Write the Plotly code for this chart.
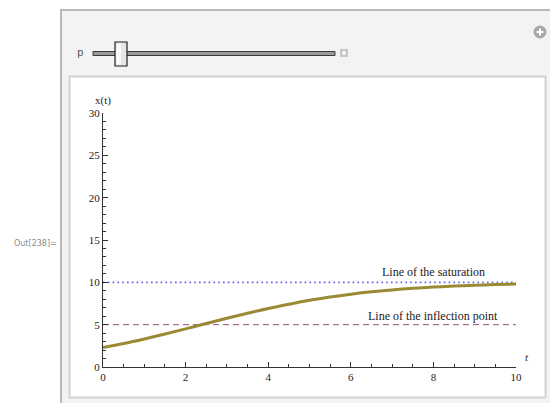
import plotly.graph_objects as go

# ---- data ----
t_vals = [0, 0.5, 1, 1.5, 2, 2.5, 3, 3.5, 4, 4.5, 5, 5.5, 6, 6.5, 7, 7.5, 8, 8.5, 9, 9.5, 10]
x_vals = [2.30, 2.77, 3.31, 3.89, 4.50, 5.13, 5.75, 6.35, 6.92, 7.42, 7.88, 8.27, 8.60,
          8.88, 9.10, 9.29, 9.44, 9.56, 9.65, 9.73, 9.79]
saturation = 10
inflection = 5
x_ticks = [0, 2, 4, 6, 8, 10]
y_ticks = [0, 5, 10, 15, 20, 25, 30]
labels = ["Line of the saturation", "Line of the inflection point"]

W, H = 550, 403
ML, MR, MT, MB = 103, 34, 113, 36
PW, PH = W - ML - MR, H - MT - MB


def px(x):
    return (x - ML) / PW


def py(y):
    return 1 - (y - MT) / PH


serif = "Liberation Serif"
fig = go.Figure()

fig.add_trace(go.Scatter(x=[0, 10], y=[saturation, saturation], mode="lines",
                         line=dict(color="#6464e6", width=1.6, dash="1.6px,3.2px"), hoverinfo="skip"))
fig.add_trace(go.Scatter(x=[0, 10], y=[inflection, inflection], mode="lines",
                         line=dict(color="#9a4f7c", width=1, dash="6px,4px"), hoverinfo="skip"))
fig.add_trace(go.Scatter(x=t_vals, y=x_vals, mode="lines", line_shape="spline",
                         line=dict(color="#9a8a34", width=3), hoverinfo="skip"))

shapes = []
# outer gray panel
shapes.append(dict(type="rect", xref="paper", yref="paper", x0=px(61), x1=px(560), y0=py(10), y1=py(410),
                   fillcolor="#f3f3f3", line=dict(color="#b9b9b9", width=2), layer="below"))
# inner white box
shapes.append(dict(type="rect", xref="paper", yref="paper", x0=px(69.5), x1=px(545.5), y0=py(76.5), y1=py(397.5),
                   fillcolor="white", line=dict(color="#d2d2d2", width=2), layer="below"))
# slider track
shapes.append(dict(type="rect", xref="paper", yref="paper", x0=px(93), x1=px(335), y0=py(51.5), y1=py(55.5),
                   fillcolor="#9a9a9a", line=dict(color="#3a3a3a", width=1), layer="above"))
# slider thumb
shapes.append(dict(type="rect", xref="paper", yref="paper", x0=px(115), x1=px(127), y0=py(42), y1=py(66),
                   fillcolor="#e6e6e6", line=dict(color="#222222", width=1.2), layer="above"))
shapes.append(dict(type="rect", xref="paper", yref="paper", x0=px(116.5), x1=px(121), y0=py(43.5), y1=py(64.5),
                   fillcolor="#fafafa", line=dict(width=0), layer="above"))
# small plus box
shapes.append(dict(type="rect", xref="paper", yref="paper", x0=px(340), x1=px(348), y0=py(49), y1=py(57),
                   fillcolor="#c8c8c8", line=dict(width=0), layer="above"))
shapes.append(dict(type="line", xref="paper", yref="paper", x0=px(342), x1=px(346), y0=py(53), y1=py(53),
                   line=dict(color="white", width=1.5), layer="above"))
shapes.append(dict(type="line", xref="paper", yref="paper", x0=px(344), x1=px(344), y0=py(51), y1=py(55),
                   line=dict(color="white", width=1.5), layer="above"))
# circle plus
shapes.append(dict(type="circle", xref="paper", yref="paper", x0=px(533.5), x1=px(546.5), y0=py(25.5), y1=py(38.5),
                   fillcolor="#a9a9a9", line=dict(width=0), layer="above"))
shapes.append(dict(type="line", xref="paper", yref="paper", x0=px(536.5), x1=px(543.5), y0=py(32), y1=py(32),
                   line=dict(color="white", width=2), layer="above"))
shapes.append(dict(type="line", xref="paper", yref="paper", x0=px(540), x1=px(540), y0=py(28.5), y1=py(35.5),
                   line=dict(color="white", width=2), layer="above"))


def ann(x, y, text, font, ref="paper"):
    return dict(x=x, y=y, xref=ref, yref=ref, text=text, showarrow=False,
                xanchor="center", yanchor="middle", font=font)


tfont = dict(family=serif, size=12, color="#222")
annotations = [
    ann(8, 11.2, labels[0], tfont, ref="x"),
    ann(8, 6.0, labels[1], tfont, ref="x"),
    ann(px(103), py(100), "x(t)", dict(family=serif, size=11, color="#222")),
    ann(px(527), py(357), "<i>t</i>", dict(family=serif, size=11, color="#222")),
    ann(px(35), py(243), "Out[238]=", dict(family="DejaVu Sans", size=8, color="#8a8a8a")),
    ann(px(80), py(53), "p", dict(family="Liberation Mono", size=11, color="#555")),
]
annotations[1]["yref"] = "y"
annotations[0]["yref"] = "y"

tickfont = dict(family=serif, size=11, color="#222")
axis_common = dict(showgrid=False, zeroline=False, showline=True, linecolor="#333", linewidth=1,
                   ticks="inside", ticklen=5, tickwidth=1, tickcolor="#333")

fig.update_layout(
    width=W, height=H,
    font=dict(family=serif, size=11, color="#222"),
    margin=dict(l=ML, r=MR, t=MT, b=MB, autoexpand=False),
    paper_bgcolor="white", plot_bgcolor="rgba(0,0,0,0)",
    showlegend=False,
    xaxis=dict(range=[0, 10], tickvals=x_ticks, tickfont=tickfont, **axis_common,
               minor=dict(dtick=0.5, tick0=0, ticks="inside", ticklen=3, tickcolor="#333")),
    yaxis=dict(range=[0, 30], tickvals=y_ticks, tickfont=tickfont, **axis_common,
               minor=dict(dtick=1, tick0=0, ticks="inside", ticklen=3, tickcolor="#333")),
    shapes=shapes, annotations=annotations,
)

fig.write_html("out.html")
